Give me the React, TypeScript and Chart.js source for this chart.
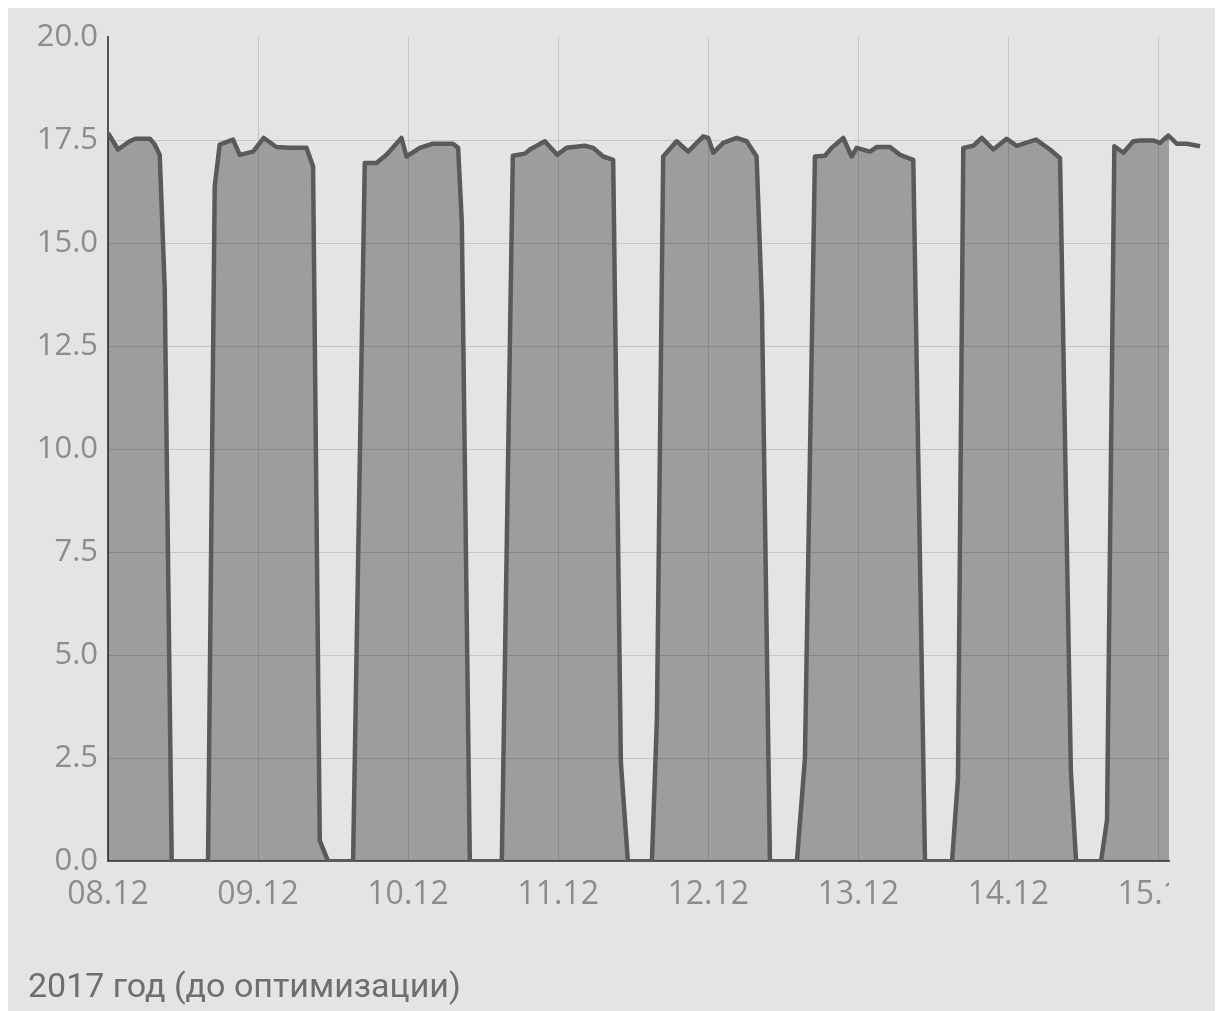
import React, { useEffect, useRef } from "react";
import { Chart, registerables } from "chart.js";

Chart.register(...registerables);

// ---- data ----
const dayLabels = ["08.12", "09.12", "10.12", "11.12", "12.12", "13.12", "14.12", "15.12"];

// hours since 08.12 00:00
const hours = [
  0, 1.6, 3.47, 4.4, 6.7, 7.47, 8.27, 9.07, 10.19, 16.0,
  17.07, 17.87, 20.0, 21.07, 23.2, 24.91, 26.94, 29.07, 31.74, 32.8,
  33.87, 35.2, 39.2, 41.07, 42.94, 44.54, 46.94, 47.74, 49.87, 51.95,
  55.15, 56.0, 56.59, 57.87, 62.99, 64.75, 66.67, 67.47, 69.87, 71.84,
  73.34, 76.27, 77.6, 79.2, 80.8, 82.03, 83.15, 87.0, 87.8, 88.8,
  90.94, 92.8, 95.2, 96.0, 96.8, 98.4, 100.54, 102.14, 103.74, 104.59,
  105.87, 110.19, 111.47, 113.07, 114.67, 115.74, 117.6, 118.94, 119.74, 121.87,
  122.94, 125.07, 126.67, 128.8, 130.67, 135.0, 135.95, 136.8, 138.4, 139.74,
  141.6, 143.74, 145.34, 148.43, 150.67, 152.27, 154.0, 154.83, 158.83, 159.79,
  160.96, 162.4, 164.0, 165.07, 167.15, 168.27, 169.6, 170.94, 172.54, 174.67,
];

const values = [
  17.67, 17.27, 17.47, 17.53, 17.53, 17.39, 17.14, 13.9, 0, 0,
  16.38, 17.39, 17.51, 17.14, 17.22, 17.55, 17.33, 17.31, 17.31, 16.86,
  0.5, 0, 0, 16.94, 16.94, 17.14, 17.55, 17.1, 17.31, 17.41,
  17.41, 17.31, 15.5, 0, 0, 17.12, 17.17, 17.27, 17.47, 17.14,
  17.31, 17.36, 17.31, 17.1, 17.02, 2.4, 0, 0, 3.5, 17.1,
  17.47, 17.22, 17.59, 17.55, 17.19, 17.43, 17.55, 17.47, 17.1, 13.5,
  0, 0, 2.5, 17.1, 17.12, 17.31, 17.55, 17.1, 17.31, 17.22,
  17.33, 17.33, 17.14, 17.02, 0, 0, 2.0, 17.31, 17.36, 17.55,
  17.27, 17.53, 17.36, 17.51, 17.27, 17.06, 2.2, 0, 0, 1.0,
  17.35, 17.19, 17.47, 17.49, 17.49, 17.43, 17.61, 17.41, 17.41, 17.35,
];

const yMin = 0;
const yMax = 20;
const yStep = 2.5;
const xMaxHours = 169.7;
const hoursPerDay = 24;
const titleText = "2017 год (до оптимизации)";

// ---- styles ----
const BG = "#e4e4e4";
const FONT = "'Open Sans', sans-serif";
const TITLE_FONT = "Roboto, sans-serif";

const coverRightLabels = {
  id: "coverRightLabels",
  afterDraw(chart: any) {
    const { ctx, chartArea, scales } = chart;
    const xs = scales.x;
    ctx.save();
    ctx.fillStyle = BG;
    ctx.fillRect(chartArea.right, xs.top + 3, chart.width - chartArea.right, xs.bottom - xs.top);
    ctx.restore();
  },
};

export default function App() {
  const ref = useRef<HTMLCanvasElement | null>(null);

  useEffect(() => {
    if (!ref.current) return;
    const points = hours.map((h, i) => ({ x: h, y: values[i] }));
    const chart = new Chart(ref.current, {
      type: "line",
      data: {
        datasets: [
          {
            data: points,
            borderColor: "#5a5a5a",
            borderWidth: 4.5,
            backgroundColor: "rgba(0,0,0,0.31)",
            fill: "origin",
            pointRadius: 0,
            tension: 0,
            borderJoinStyle: "round",
            clip: { left: 0, top: 0, right: false, bottom: 0 } as any,
          },
        ],
      },
      options: {
        animation: false,
        responsive: true,
        maintainAspectRatio: false,
        layout: { padding: { top: 31, left: 20, right: 54, bottom: 2 } },
        plugins: {
          legend: { display: false },
          tooltip: { enabled: false },
          title: {
            display: true,
            text: titleText,
            position: "bottom",
            align: "start",
            color: "#6e6e6e",
            font: { family: TITLE_FONT, size: 34, weight: "normal" },
            padding: { top: 50, bottom: 0 },
          },
        },
        scales: {
          x: {
            type: "linear",
            bounds: "data",
            afterDataLimits: (s: any) => {
              s.min = 0;
              s.max = xMaxHours;
            },
            afterBuildTicks: (s: any) => {
              s.ticks = dayLabels.map((_, i) => ({ value: i * hoursPerDay }));
            },
            afterFit: (s: any) => {
              s.height = 57;
            },
            ticks: {
              padding: 14,
              color: "#8c8c8c",
              font: { family: FONT, size: 32 },
              maxRotation: 0,
              autoSkip: false,
              callback: (v: any) => dayLabels[Math.round(Number(v) / hoursPerDay)] ?? "",
            },
            grid: { color: "#c6c6c6", lineWidth: 1, drawTicks: false },
            border: { display: true, color: "#606060", width: 2 },
          },
          y: {
            min: yMin,
            max: yMax,
            afterFit: (s: any) => {
              s.width = 80;
            },
            ticks: {
              stepSize: yStep,
              padding: 10,
              color: "#8c8c8c",
              font: { family: FONT, size: 31 },
              callback: (v: any) => Number(v).toFixed(1),
            },
            grid: {
              color: (c: any) => (c.tick && c.tick.value === yMax ? "rgba(0,0,0,0)" : "#c6c6c6"),
              lineWidth: 1,
              drawTicks: false,
            },
            border: { display: true, color: "#555555", width: 2 },
          },
        },
      },
      plugins: [coverRightLabels],
    });
    return () => chart.destroy();
  }, []);

  return (
    <div style={{ width: 1215, height: 1005, marginTop: -2, background: BG, position: "relative" }}>
      <canvas ref={ref} />
    </div>
  );
}
